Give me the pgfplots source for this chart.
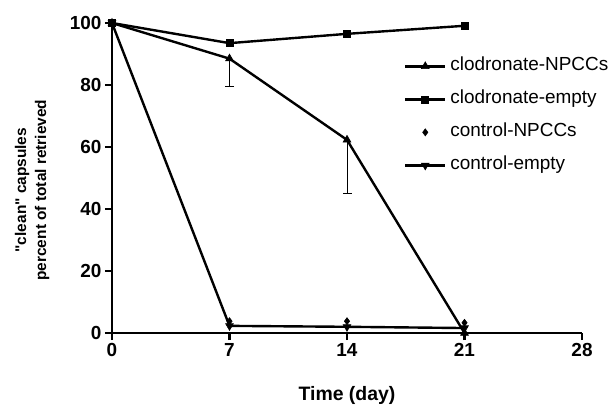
\documentclass[border=0pt]{standalone}
\usepackage{pgfplots}
\pgfplotsset{compat=1.18}
\usepackage{fontspec}
\setmainfont{Liberation Sans}
\newfontfamily\plainquote{Liberation Sans}
\newcommand{\dq}{{\plainquote\bfseries"}}
\begin{document}
\begin{tikzpicture}
\begin{axis}[
  scale only axis, width=470bp, height=310bp,
  xmin=0, xmax=28, ymin=0, ymax=100,
  clip=false,
  axis x line*=bottom, axis y line*=left,
  axis line style={line width=2.4bp, black},
  xtick={0,7,14,21,28}, ytick={0,20,40,60,80,100},
  tick align=outside, major tick length=7bp,
  tick style={line width=2.4bp, black},
  /pgf/number format/assume math mode=true,
  ticklabel style={font=\fontsize{19}{20}\selectfont\bfseries},
  xlabel={Time (day)},
  xlabel style={font=\fontsize{19.5}{20}\selectfont\bfseries, at={(rel axis cs:0.5,-0.2)}, anchor=center},
  ylabel={\dq clean\dq{} capsules\\percent of total retrieved},
  ylabel style={font=\fontsize{15.5}{20}\selectfont\bfseries, align=center, at={(rel axis cs:-0.170,0.461)}, anchor=center},
  legend style={draw=none, fill=none, at={(rel axis cs:0.621,0.885)}, anchor=north west,
    font=\fontsize{19}{20}\selectfont, row sep=18bp, inner sep=0pt,
    nodes={inner xsep=4bp, inner ysep=0pt, text height=12bp, text depth=3bp}},
  legend cell align=left,
  legend image code/.code={\draw[mark repeat=2,mark phase=2,#1] plot coordinates {(0bp,0bp) (20bp,0bp) (40bp,0bp)};},
]
%% clodronate-NPCCs
\addplot[black, line width=2.4bp, mark=triangle*, mark size=4.5bp, mark options={line width=0.6bp, solid},
  error bars/.cd, y dir=minus, y explicit, error mark=-,
  error bar style={black, line width=0.8bp},
  error mark options={black, line width=0.8bp, mark size=4.5bp, rotate=90}]
  coordinates {
    (0,100)
    (7,88.5) -= (0,9)
    (14,62.3) -= (0,17.3)
    (21,0)
  };
%% clodronate-empty
\addplot[black, line width=2.4bp, mark=square*, mark size=3.5bp, mark options={line width=0.6bp, solid}]
  coordinates {
    (0,100)
    (7,93.5)
    (14,96.5)
    (21,99.1)
  };
%% control-NPCCs
\addplot[black, only marks, mark=diamond*, mark size=3.5bp, mark options={line width=0.6bp},
  legend image code/.code={\draw[black, mark=diamond*, mark size=3.5bp, mark options={line width=0.6bp}, only marks] plot coordinates {(20bp,0bp)};}]
  coordinates {
    (0,100)
    (7,3.8)
    (14,3.8)
    (21,3.3)
  };
%% control-empty
\addplot[black, line width=2.4bp, mark=triangle*, mark size=4.5bp, mark options={line width=0.6bp, solid, rotate=180}]
  coordinates {
    (0,100)
    (7,2.3)
    (14,2.0)
    (21,1.6)
  };
\legend{clodronate-NPCCs, clodronate-empty, control-NPCCs, control-empty}
\coordinate (o) at (rel axis cs:0,0);
\end{axis}
\pgfresetboundingbox
\path[use as bounding box] ([shift={(-112bp,-74bp)}]o) rectangle ([shift={(501bp,333bp)}]o);
\end{tikzpicture}
\end{document}
